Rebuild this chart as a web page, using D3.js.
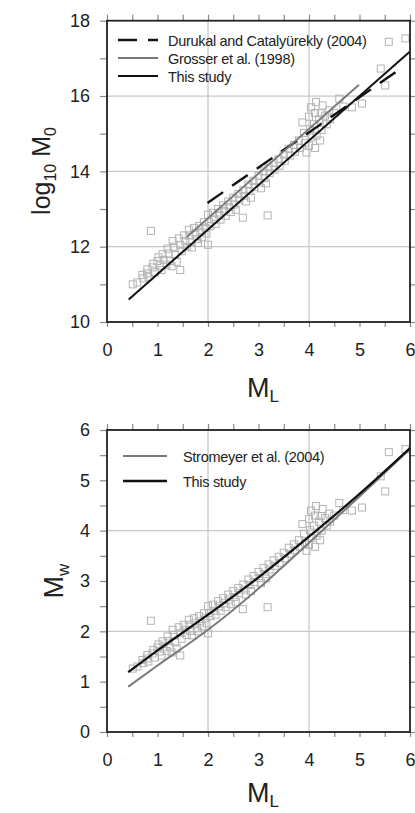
<!DOCTYPE html>
<html>
<head>
<meta charset="utf-8">
<script src="https://cdn.jsdelivr.net/npm/d3@7"></script>
<style>
  body { margin: 0; background: #fff; }
  svg { display: block; font-family: "Liberation Sans", Arial, sans-serif; }
</style>
</head>
<body>
<svg id="chart" width="415" height="813"></svg>
<script>
const mlObs = [0.51, 0.60, 0.72, 0.70, 0.79, 0.80, 0.82, 0.87, 0.90, 0.92, 0.95, 1.00, 1.02, 1.05, 1.08, 1.10, 1.12, 1.18, 1.20, 1.22,
  1.25, 1.28, 1.30, 1.32, 1.35, 1.38, 1.45, 1.42, 1.45, 1.48, 1.52, 1.55, 1.58, 1.62, 1.63, 1.65, 1.68, 1.72, 1.75, 1.78,
  1.82, 1.85, 1.88, 1.80, 1.92, 1.95, 1.97, 2.00, 2.02, 2.05, 2.00, 2.10, 2.12, 2.15, 2.20, 2.22, 2.25, 2.30, 2.32, 2.35,
  2.40, 2.42, 2.45, 2.50, 2.52, 2.55, 2.60, 2.62, 2.69, 2.70, 2.72, 2.75, 2.80, 2.82, 2.85, 2.90, 2.92, 3.00, 3.02, 3.05,
  3.10, 3.12, 3.15, 3.18, 3.20, 3.22, 3.30, 3.32, 3.40, 3.42, 3.50, 3.52, 3.60, 3.62, 3.70, 3.72, 3.80, 3.82, 3.87, 3.90,
  3.92, 3.95, 4.04, 4.00, 4.02, 4.05, 4.00, 4.14, 4.12, 4.10, 4.15, 4.12, 4.27, 4.23, 4.20, 4.25, 4.22, 4.32, 4.35, 4.40,
  4.42, 4.50, 4.60, 4.68, 4.85, 5.05, 5.42, 5.51, 5.58, 5.91];
const logM0Obs = [11.00, 11.05, 11.16, 11.25, 11.29, 11.40, 11.20, 12.42, 11.45, 11.55, 11.32, 11.62, 11.72, 11.50, 11.38, 11.80, 11.65, 11.52, 11.95, 11.82,
  11.62, 11.48, 12.15, 12.00, 11.78, 11.60, 11.38, 12.22, 12.05, 11.88, 12.30, 12.15, 12.00, 12.45, 12.30, 12.12, 11.98, 12.50, 12.35, 12.20,
  12.55, 12.40, 12.25, 12.10, 12.65, 12.50, 12.35, 12.85, 12.65, 12.55, 12.05, 12.90, 12.72, 12.60, 13.00, 12.85, 12.72, 13.10, 12.95, 12.82,
  13.20, 13.05, 12.92, 13.30, 13.12, 12.98, 13.40, 13.25, 12.77, 13.50, 13.35, 13.20, 13.65, 13.48, 13.30, 13.75, 13.58, 13.88, 13.70, 13.55,
  14.00, 13.82, 13.68, 12.83, 14.10, 13.95, 14.22, 14.05, 14.32, 14.15, 14.45, 14.28, 14.60, 14.42, 14.70, 14.52, 14.82, 14.62, 15.30, 15.02,
  14.75, 14.50, 15.70, 15.45, 15.12, 14.90, 14.68, 15.84, 15.55, 15.25, 14.95, 14.62, 15.75, 15.54, 15.38, 15.10, 14.82, 15.48, 15.25, 15.62,
  15.38, 15.55, 15.93, 15.72, 15.70, 15.80, 16.73, 16.28, 17.44, 17.53];
const mwObs = [1.26, 1.30, 1.37, 1.43, 1.46, 1.53, 1.40, 2.21, 1.56, 1.63, 1.48, 1.68, 1.74, 1.60, 1.52, 1.80, 1.70, 1.61, 1.90, 1.81,
  1.68, 1.58, 2.03, 1.93, 1.78, 1.66, 1.52, 2.08, 1.96, 1.85, 2.13, 2.03, 1.93, 2.23, 2.13, 2.01, 1.92, 2.26, 2.16, 2.06,
  2.30, 2.20, 2.10, 2.00, 2.36, 2.26, 2.16, 2.50, 2.36, 2.30, 1.96, 2.53, 2.41, 2.33, 2.60, 2.50, 2.41, 2.66, 2.56, 2.48,
  2.73, 2.63, 2.54, 2.80, 2.68, 2.58, 2.86, 2.76, 2.44, 2.93, 2.83, 2.73, 3.03, 2.92, 2.80, 3.10, 2.98, 3.18, 3.06, 2.96,
  3.26, 3.14, 3.05, 2.48, 3.33, 3.23, 3.41, 3.30, 3.48, 3.36, 3.56, 3.45, 3.66, 3.54, 3.73, 3.61, 3.81, 3.68, 4.13, 3.94,
  3.76, 3.60, 4.40, 4.23, 4.01, 3.86, 3.72, 4.49, 4.30, 4.10, 3.90, 3.68, 4.43, 4.29, 4.18, 4.00, 3.81, 4.25, 4.10, 4.34,
  4.18, 4.30, 4.55, 4.41, 4.40, 4.46, 5.08, 4.78, 5.56, 5.62];

// Relations in the top panel (end points)
const durukalML = [1.99, 5.84];
const durukalM0 = [13.16, 16.75];
const grosserML = [1.58, 4.99];
const grosserM0 = [12.26, 16.30];
const studyTopML = [0.43, 6.0];
const studyTopM0 = [10.60, 17.18];

// Relations in the bottom panel
const curveML = [0.42, 1, 2, 3, 4, 5, 6];
const stromeyerMw = [0.90, 1.32, 2.03, 2.85, 3.76, 4.68, 5.62];
const studyBottomMw = [1.19, 1.62, 2.33, 3.07, 3.88, 4.73, 5.64];

const xTicks = [0, 1, 2, 3, 4, 5, 6];
const topYTicks = [10, 12, 14, 16, 18];
const bottomYTicks = [0, 1, 2, 3, 4, 5, 6];

const svg = d3.select("#chart");

function zipPts(xs, ys) {
  return xs.map(function (v, i) { return [v, ys[i]]; });
}

function panel(opts) {
  const x = d3.scaleLinear().domain([0, 6]).range([107, 410]);
  const y = d3.scaleLinear().domain(opts.yDomain).range(opts.yRange);
  const g = svg.append("g");
  const top = opts.yRange[1], bottom = opts.yRange[0];

  // grid
  g.selectAll(".vgrid").data([2, 4]).enter().append("line")
    .attr("x1", d => x(d)).attr("x2", d => x(d))
    .attr("y1", top).attr("y2", bottom)
    .attr("stroke", "#c8c8c8").attr("stroke-width", 1.3);
  g.selectAll(".hgrid").data(opts.yGrid).enter().append("line")
    .attr("x1", x(0)).attr("x2", x(6))
    .attr("y1", d => y(d)).attr("y2", d => y(d))
    .attr("stroke", "#c8c8c8").attr("stroke-width", 1.3);

  // ticks on all four sides
  const minorX = d3.range(0, 6.01, 0.5);
  const axB = d3.axisBottom(x).tickValues(minorX).tickSize(5).tickPadding(16)
    .tickFormat(d => (xTicks.indexOf(d) >= 0 ? d : ""));
  const axT = d3.axisTop(x).tickValues(minorX).tickSize(6).tickFormat("");
  const axL = d3.axisLeft(y).tickValues(opts.yMinor).tickSize(7).tickPadding(10)
    .tickFormat(d => (opts.yTicks.indexOf(d) >= 0 ? d : ""));
  const axR = d3.axisRight(y).tickValues(opts.yMinor).tickSize(5).tickFormat("");

  [[axB, "translate(0," + bottom + ")"], [axT, "translate(0," + top + ")"],
   [axL, "translate(" + x(0) + ",0)"], [axR, "translate(" + x(6) + ",0)"]].forEach(function (a) {
    const ag = g.append("g").attr("transform", a[1]).call(a[0]);
    ag.select(".domain").remove();
    ag.selectAll("line").attr("stroke", "#8a8a8a").attr("stroke-width", 1.2);
    ag.selectAll("text").attr("font-size", 18).attr("fill", "#222")
      .attr("font-family", "Liberation Sans, Arial, sans-serif");
  });

  // scatter
  g.selectAll(".pt").data(opts.pts).enter().append("rect")
    .attr("x", d => x(d[0]) - 3.5).attr("y", d => y(d[1]) - 3.5)
    .attr("width", 7).attr("height", 7)
    .attr("fill", "none").attr("stroke", "#b4b4b4").attr("stroke-width", 1);

  // curves
  opts.lines.forEach(function (l) {
    const line = d3.line().x(d => x(d[0])).y(d => y(d[1])).curve(d3.curveMonotoneX);
    g.append("path").datum(l.pts).attr("d", line)
      .attr("fill", "none").attr("stroke", l.color).attr("stroke-width", l.width)
      .attr("stroke-dasharray", l.dash || null);
  });

  // frame
  g.append("rect").attr("x", x(0)).attr("y", top)
    .attr("width", x(6) - x(0)).attr("height", bottom - top)
    .attr("fill", "none").attr("stroke", "#222").attr("stroke-width", 1.8);

  // legend
  opts.legend.forEach(function (l, i) {
    const ly = opts.legendY + i * opts.legendStep;
    g.append("line").attr("x1", opts.legendX1).attr("x2", opts.legendX2)
      .attr("y1", ly).attr("y2", ly)
      .attr("stroke", l.color).attr("stroke-width", l.width)
      .attr("stroke-dasharray", l.dash || null);
    g.append("text").attr("x", opts.legendTextX).attr("y", ly + 6)
      .attr("font-size", 14.5).attr("letter-spacing", -0.3).attr("fill", "#222")
      .text(l.label);
  });

  // x label
  const xl = g.append("text").attr("x", 247).attr("y", bottom + opts.xLabelOffset)
    .attr("font-size", 27).attr("fill", "#222");
  xl.append("tspan").text("M");
  xl.append("tspan").attr("font-size", 17).attr("dy", 5).text("L");

  return g;
}

// Top panel: log10 M0 vs ML
const gTop = panel({
  yDomain: [10, 18], yRange: [322, 20.7],
  yTicks: topYTicks, yMinor: d3.range(10, 18.01, 1), yGrid: [12, 14, 16],
  pts: zipPts(mlObs, logM0Obs),
  lines: [
    { pts: zipPts(durukalML, durukalM0), color: "#111", width: 2.4, dash: "19,11" },
    { pts: zipPts(grosserML, grosserM0), color: "#7a7a7a", width: 2 },
    { pts: zipPts(studyTopML, studyTopM0), color: "#111", width: 2 }
  ],
  legend: [
    { label: "Durukal and Catalyürekly (2004)", color: "#111", width: 2.4, dash: "19,11" },
    { label: "Grosser et al. (1998)", color: "#7a7a7a", width: 2 },
    { label: "This study", color: "#111", width: 2 }
  ],
  legendX1: 118, legendX2: 158, legendTextX: 168, legendY: 40, legendStep: 18,
  xLabelOffset: 75
});
const ylTop = gTop.append("text").attr("transform", "translate(50,171) rotate(-90)")
  .attr("text-anchor", "middle").attr("font-size", 25).attr("fill", "#222");
ylTop.append("tspan").text("log");
ylTop.append("tspan").attr("font-size", 16).attr("dy", 6).text("10");
ylTop.append("tspan").attr("dy", -6).text(" M");
ylTop.append("tspan").attr("font-size", 16).attr("dy", 6).text("0");

// Bottom panel: Mw vs ML
const gBottom = panel({
  yDomain: [0, 6], yRange: [732, 430],
  yTicks: bottomYTicks, yMinor: d3.range(0, 6.01, 0.5), yGrid: [2, 4],
  pts: zipPts(mlObs, mwObs),
  lines: [
    { pts: zipPts(curveML, stromeyerMw), color: "#7a7a7a", width: 2 },
    { pts: zipPts(curveML, studyBottomMw), color: "#111", width: 2.2 }
  ],
  legend: [
    { label: "Stromeyer et al. (2004)", color: "#7a7a7a", width: 2 },
    { label: "This study", color: "#111", width: 2.4 }
  ],
  legendX1: 123, legendX2: 167, legendTextX: 183, legendY: 456, legendStep: 25,
  xLabelOffset: 70
});
const ylBottom = gBottom.append("text").attr("transform", "translate(63,581) rotate(-90)")
  .attr("text-anchor", "middle").attr("font-size", 27).attr("fill", "#222");
ylBottom.append("tspan").text("M");
ylBottom.append("tspan").attr("font-size", 17).attr("dy", 6).text("w");
</script>
</body>
</html>
